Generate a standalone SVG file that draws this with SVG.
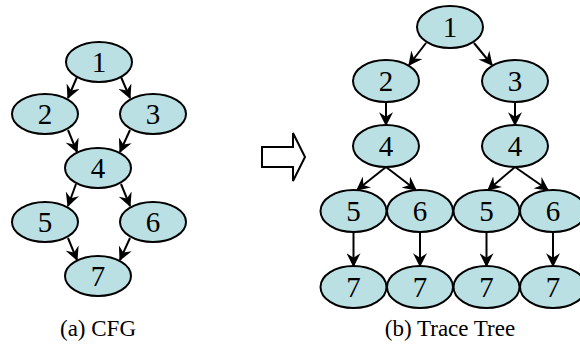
<svg xmlns="http://www.w3.org/2000/svg" width="580" height="361" viewBox="0 0 580 361">
  <style>
    .node ellipse { fill: #bae0e4; stroke: #000; stroke-width: 2; }
    .node text { font-family: "Liberation Serif", "Times New Roman", serif; font-size: 29px; text-anchor: middle; fill: #000; }
    .edges line { stroke: #000; stroke-width: 2; marker-end: url(#head); }
    .caption { font-family: "Liberation Serif", "Times New Roman", serif; font-size: 23px; text-anchor: middle; fill: #000; }
  </style>
  <defs>
    <marker id="head" viewBox="0 0 12 12" refX="11" refY="6" markerWidth="14" markerHeight="14" orient="auto" markerUnits="userSpaceOnUse">
      <path d="M0,0 L12,6 L0,12 L4,6 z" fill="#000"/>
    </marker>
  </defs>
  <rect width="580" height="361" fill="#fff"/>

  <!-- (a) control flow graph -->
  <g id="cfg-1" class="node"><ellipse cx="99" cy="62" rx="33" ry="20"/><text x="99" y="72">1</text></g>
  <g id="cfg-2" class="node"><ellipse cx="45" cy="114" rx="33" ry="20"/><text x="45" y="124">2</text></g>
  <g id="cfg-3" class="node"><ellipse cx="153" cy="114" rx="33" ry="20"/><text x="153" y="124">3</text></g>
  <g id="cfg-4" class="node"><ellipse cx="98" cy="168" rx="33" ry="20"/><text x="98" y="178">4</text></g>
  <g id="cfg-5" class="node"><ellipse cx="45" cy="222" rx="33" ry="20"/><text x="45" y="232">5</text></g>
  <g id="cfg-6" class="node"><ellipse cx="153" cy="222" rx="33" ry="20"/><text x="153" y="232">6</text></g>
  <g id="cfg-7" class="node"><ellipse cx="98" cy="276" rx="33" ry="20"/><text x="98" y="286">7</text></g>

  <!-- (b) trace tree -->
  <g id="tt-1" class="node"><ellipse cx="450" cy="27" rx="33" ry="21"/><text x="450" y="37">1</text></g>
  <g id="tt-2" class="node"><ellipse cx="386" cy="81" rx="33" ry="21"/><text x="386" y="91">2</text></g>
  <g id="tt-3" class="node"><ellipse cx="515" cy="81" rx="33" ry="21"/><text x="515" y="91">3</text></g>
  <g id="tt-4a" class="node"><ellipse cx="386" cy="146" rx="33" ry="21"/><text x="386" y="156">4</text></g>
  <g id="tt-4b" class="node"><ellipse cx="515" cy="146" rx="33" ry="21"/><text x="515" y="156">4</text></g>
  <g id="tt-5a" class="node"><ellipse cx="353.5" cy="211" rx="33" ry="21"/><text x="353.5" y="221">5</text></g>
  <g id="tt-6a" class="node"><ellipse cx="420" cy="211" rx="33" ry="21"/><text x="420" y="221">6</text></g>
  <g id="tt-5b" class="node"><ellipse cx="486.5" cy="211" rx="33" ry="21"/><text x="486.5" y="221">5</text></g>
  <g id="tt-6b" class="node"><ellipse cx="553" cy="211" rx="33" ry="21"/><text x="553" y="221">6</text></g>
  <g id="tt-7a" class="node"><ellipse cx="353.5" cy="287" rx="33" ry="21"/><text x="353.5" y="297">7</text></g>
  <g id="tt-7b" class="node"><ellipse cx="420" cy="287" rx="33" ry="21"/><text x="420" y="297">7</text></g>
  <g id="tt-7c" class="node"><ellipse cx="486.5" cy="287" rx="33" ry="21"/><text x="486.5" y="297">7</text></g>
  <g id="tt-7d" class="node"><ellipse cx="553" cy="287" rx="33" ry="21"/><text x="553" y="297">7</text></g>

  <g id="edges" class="edges">
    <!-- CFG edges -->
    <line x1="77" y1="77" x2="68" y2="98"/>
    <line x1="121" y1="77" x2="130" y2="98"/>
    <line x1="68" y1="130" x2="77" y2="152"/>
    <line x1="130" y1="130" x2="120" y2="152"/>
    <line x1="76" y1="184" x2="68" y2="206"/>
    <line x1="121" y1="184" x2="130" y2="206"/>
    <line x1="68" y1="238" x2="77" y2="260"/>
    <line x1="130" y1="238" x2="120" y2="260"/>
    <!-- trace tree edges -->
    <line x1="426" y1="43" x2="409" y2="65"/>
    <line x1="474" y1="43" x2="492" y2="65"/>
    <line x1="386" y1="102" x2="386" y2="125"/>
    <line x1="515" y1="102" x2="515" y2="125"/>
    <line x1="386" y1="167" x2="357" y2="190"/>
    <line x1="386" y1="167" x2="416" y2="190"/>
    <line x1="515" y1="167" x2="488" y2="190"/>
    <line x1="515" y1="167" x2="548" y2="190"/>
    <line x1="353.5" y1="232" x2="353.5" y2="266"/>
    <line x1="420" y1="232" x2="420" y2="266"/>
    <line x1="486.5" y1="232" x2="486.5" y2="266"/>
    <line x1="553" y1="232" x2="553" y2="266"/>
  </g>

  <!-- transformation arrow -->
  <path d="M262,147 L293,147 L293,133 L305,157 L293,181 L293,167 L262,167 Z" fill="#fff" stroke="#000" stroke-width="2" stroke-linejoin="miter"/>

  <text class="caption" x="98" y="336">(a) CFG</text>
  <text class="caption" x="450" y="336">(b) Trace Tree</text>
</svg>
